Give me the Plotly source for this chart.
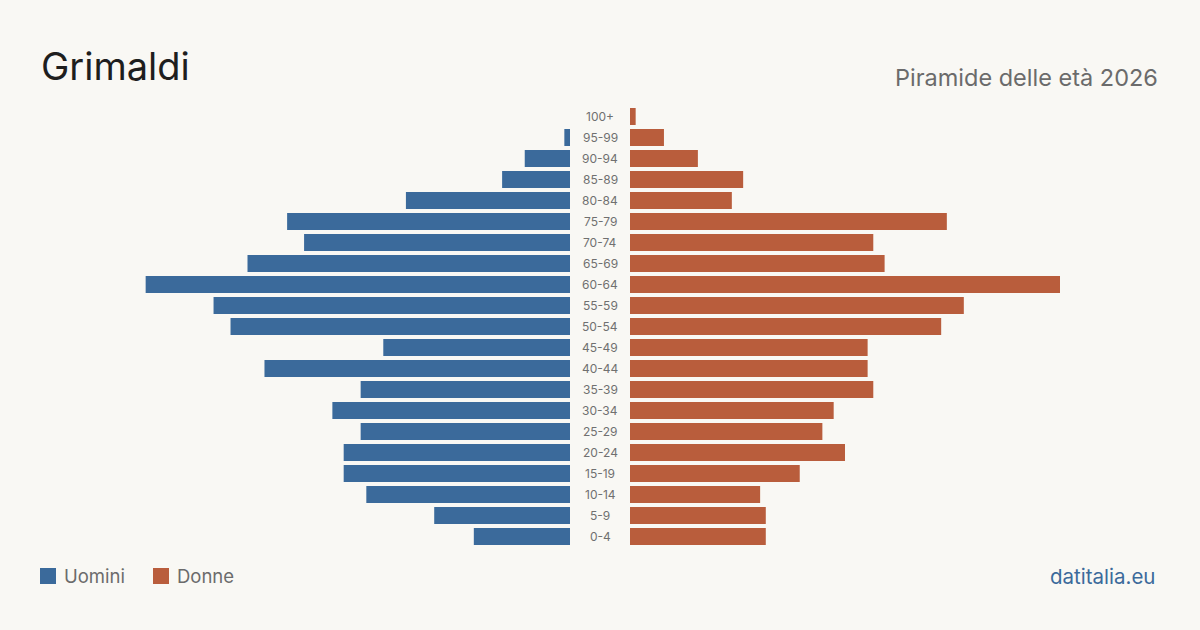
import plotly.graph_objects as go

age_groups = ["0-4", "5-9", "10-14", "15-19", "20-24", "25-29", "30-34", "35-39",
              "40-44", "45-49", "50-54", "55-59", "60-64", "65-69", "70-74", "75-79",
              "80-84", "85-89", "90-94", "95-99", "100+"]
men = [17, 24, 36, 40, 40, 37, 42, 37, 54, 33, 60, 63, 75, 57, 47, 50, 29, 12, 8, 1, 0]
women = [24, 24, 23, 30, 38, 34, 36, 43, 42, 42, 55, 59, 76, 45, 43, 56, 18, 20, 12, 6, 1]

title = "Grimaldi"
subtitle = "Piramide delle età 2026"
source = "datitalia.eu"
series_names = ["Uomini", "Donne"]

BLUE = "#3b6a9b"
RUST = "#b95d3c"
BG = "#f9f8f4"
FONT = "Inter, 'Noto Sans', sans-serif"

W, H = 1200, 630
top, bottom = 106, 547
xmax = max(max(men), max(women))


def py(p):
    """pixel y (from top) -> paper y relative to plot area"""
    return (bottom - p) / (bottom - top)


fig = go.Figure()
fig.add_trace(go.Bar(y=age_groups, x=men, orientation="h", marker_color=BLUE,
                     marker_line_width=0,
                     name=series_names[0], xaxis="x", yaxis="y", showlegend=False,
                     hoverinfo="x+y"))
fig.add_trace(go.Bar(y=age_groups, x=women, orientation="h", marker_color=RUST,
                     marker_line_width=0,
                     name=series_names[1], xaxis="x2", yaxis="y", showlegend=False,
                     hoverinfo="x+y"))

for g in age_groups:
    fig.add_annotation(x=0.5, xref="paper", y=g, yref="y", text=g, showarrow=False,
                       font=dict(family=FONT, size=12, color="#707070"),
                       xanchor="center", yanchor="middle")

# titles
fig.add_annotation(x=39 / W, y=py(66), xref="paper", yref="paper", yanchor="middle",
                   xanchor="left", text=title, showarrow=False,
                   font=dict(family=FONT, size=38, color="#1e1e1e"))
fig.add_annotation(x=1160 / W, y=py(77), xref="paper", yref="paper", yanchor="middle",
                   xanchor="right", text=subtitle, showarrow=False,
                   font=dict(family=FONT, size=23.5, color="#6b6b6b"))
fig.add_annotation(x=1157 / W, y=py(576), xref="paper", yref="paper", yanchor="middle",
                   xanchor="right", text=source, showarrow=False,
                   font=dict(family=FONT, size=20.5, color="#3b6a9b"))

# legend
legend_items = [(40, BLUE, series_names[0]), (153, RUST, series_names[1])]
for x0, col, name in legend_items:
    fig.add_shape(type="rect", xref="paper", yref="paper",
                  x0=x0 / W, x1=(x0 + 16) / W, y0=py(584), y1=py(568),
                  fillcolor=col, line_width=0)
    fig.add_annotation(x=(x0 + 22) / W, y=py(576), xref="paper", yref="paper",
                       xanchor="left", yanchor="middle", text=name, showarrow=False,
                       font=dict(family=FONT, size=18.5, color="#6b6b6b"))

fig.update_layout(
    width=W, height=H,
    paper_bgcolor=BG, plot_bgcolor=BG,
    margin=dict(l=0, r=0, t=top, b=H - bottom),
    bargap=0.19,
    xaxis=dict(domain=[140 / W, 570 / W], range=[xmax, 0], visible=False, fixedrange=True),
    xaxis2=dict(domain=[630 / W, 1060 / W], range=[0, xmax], visible=False, fixedrange=True),
    yaxis=dict(categoryorder="array", categoryarray=age_groups, range=[-0.5, len(age_groups) - 0.5],
               visible=False, fixedrange=True),
    showlegend=False,
)

fig.write_html("out.html")
